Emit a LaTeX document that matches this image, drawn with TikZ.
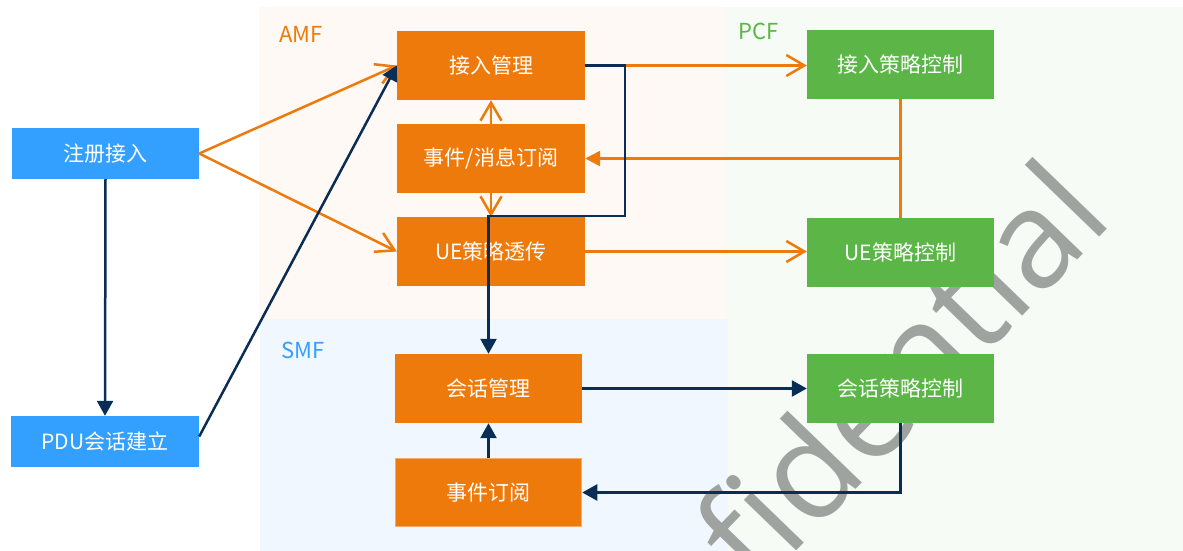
\documentclass[tikz,border=0pt]{standalone}
\usepackage{fontspec}
\setmainfont{Noto Sans CJK SC}
\newfontfamily\wmfont{Open Sans}
\usetikzlibrary{arrows.meta}
\definecolor{orangeC}{RGB}{238,122,11}
\definecolor{blueC}{RGB}{51,159,255}
\definecolor{greenC}{RGB}{91,181,71}
\definecolor{navyC}{RGB}{10,45,85}
\definecolor{amfbg}{RGB}{254,249,245}
\definecolor{pcfbg}{RGB}{246,251,245}
\definecolor{smfbg}{RGB}{240,247,255}
\definecolor{wmC}{RGB}{159,163,159}
\definecolor{borderC}{RGB}{246,172,104}
\tikzset{
  x=1pt, y=-1pt,
  box/.style={rectangle, minimum width=188pt, minimum height=69pt, inner sep=0pt,
    text=white, font=\fontsize{21}{25}\selectfont},
  obox/.style={box, fill=orangeC},
  gbox/.style={box, fill=greenC},
  bbox/.style={box, fill=blueC, minimum height=51pt},
  arealabel/.style={anchor=base west, inner sep=0pt, font=\fontsize{22}{26}\selectfont},
  oline/.style={draw=orangeC, line width=2.5pt},
  nline/.style={draw=navyC, line width=2.5pt},
  barb/.style={-{Straight Barb[length=18pt,width=21pt,line width=2.5pt]}},
  otri/.style={-{Triangle[length=15pt,width=15pt]}},
  ntri/.style={-{Triangle[length=15pt,width=16pt]}},
}
\begin{document}
\begin{tikzpicture}
\useasboundingbox (0,0) rectangle (1183,551);
\clip (0,0) rectangle (1183,551);
% background areas
\fill[pcfbg] (725,7) rectangle (1183,551);
\fill[amfbg] (259,7) rectangle (725,319);
\fill[smfbg] (260,319) rectangle (728,551);
\node[arealabel, text=orangeC] (lamf) at (279,43) {AMF};
\node[arealabel, text=greenC] (lpcf) at (738,40) {PCF};
\node[arealabel, text=blueC] (lsmf) at (281,358) {SMF};
% watermark
\node[anchor=base east, rotate=46, inner sep=0pt, text=wmC,
  font=\wmfont\fontsize{136}{136}\selectfont] (wm) at (1115,221) {Confidential};
% nodes
\node[bbox, minimum width=187pt] (reg) at (105.5,153.5) {注册接入};
\node[bbox] (pdu) at (105,441.5) {PDU会话建立};
\node[obox] (am) at (491,65.5) {接入管理};
\node[obox] (ev) at (491,158.5) {事件/消息订阅};
\node[obox] (uet) at (491,251.5) {UE策略透传};
\node[obox, minimum width=187pt] (sm) at (488.5,388.5) {会话管理};
\node[obox, minimum width=186pt, minimum height=68pt, draw=borderC, line width=1.5pt] (es) at (488.5,492.5) {事件订阅};
\node[gbox, minimum width=187pt] (apc) at (900.5,64.5) {接入策略控制};
\node[gbox, minimum width=187pt] (uepc) at (900.5,252.5) {UE策略控制};
\node[gbox, minimum width=187pt] (spc) at (900.5,388.5) {会话策略控制};
% orange connectors
\draw[oline, barb] (reg.east) -- (am.west);
\draw[oline, barb] (reg.east) -- (uet.west);
\draw[oline, barb] (am.east) -- (am.east -| apc.west);
\draw[oline, barb] (ev.north) -- (am.south);
\draw[oline, barb] (ev.south) -- (uet.north);
\draw[oline] (apc.south) -- (uepc.north);
\coordinate (br) at (apc.south |- ev.east);
\draw[oline, otri] (br) -- (ev.east);
\draw[oline, barb] (uet.east) -- (uet.east -| uepc.west);
% navy connectors
\draw[nline, ntri] (reg.south) -- (pdu.north);
\draw[nline, ntri] ([yshift=5pt]pdu.east) -- (am.west);
\coordinate (k1) at (625,216);
\draw[nline, ntri] (am.east) -| (k1) -| (sm.north);
\draw[nline, ntri] (sm.east) -- (spc.west);
\draw[nline, ntri] (spc.south) |- (es.east);
\draw[nline, ntri] (es.north) -- (sm.south);
\end{tikzpicture}
\end{document}
